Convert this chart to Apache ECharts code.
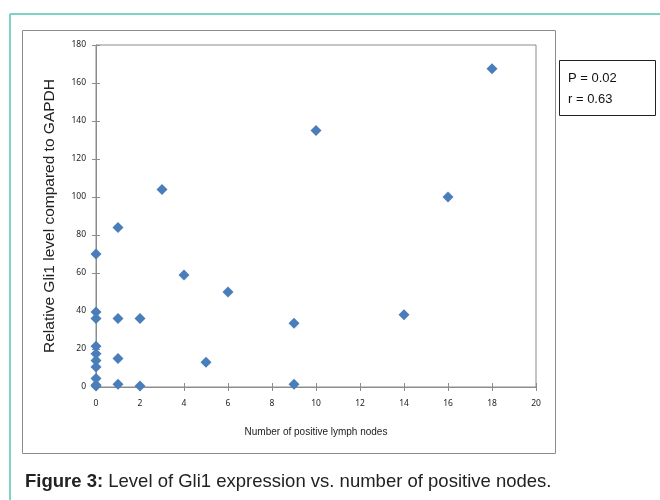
<!DOCTYPE html>
<html>
<head>
<meta charset="utf-8">
<script src="https://cdn.jsdelivr.net/npm/echarts@6/dist/echarts.min.js"></script>
<style>
  html, body { margin: 0; padding: 0; background: #fff; }
  #chart { width: 660px; height: 500px; }
</style>
</head>
<body>
<div id="chart"></div>
<script>
// positive lymph nodes vs relative Gli1 level
const nodes = [0, 0, 0, 0, 0, 0, 0, 0, 0, 0, 1, 1, 1, 1, 2, 2, 3, 4, 5, 6, 9, 9, 10, 14, 16, 18];
const gli1 = [70, 39.5, 36, 21.5, 17.5, 14, 10.5, 4.5, 1, 0.5, 84, 36, 15, 1.5, 36, 0.5, 104, 59, 13, 50, 33.5, 1.5, 135, 38, 100, 167.5];
const statLines = ['P = 0.02', 'r = 0.63'];
const caption = 'Level of Gli1 expression vs. number of positive nodes.';

const axisGray = '#8c8c8c';
const labelStyle = { fontFamily: 'Noto Sans', fontSize: 8.5, color: '#222' };

const chart = echarts.init(document.getElementById('chart'));

chart.setOption({
  animation: false,
  backgroundColor: '#fff',
  grid: {
    left: 96, top: 45, right: 124, bottom: 113,
    show: true, borderColor: axisGray, borderWidth: 1
  },
  xAxis: [
    {
      type: 'value', min: 0, max: 20, interval: 2,
      name: 'Number of positive lymph nodes',
      nameLocation: 'middle', nameGap: 40,
      nameTextStyle: { fontFamily: 'Liberation Sans', fontSize: 10, color: '#222' },
      axisLine: { lineStyle: { color: axisGray } },
      axisTick: { show: true, length: 4, lineStyle: { color: axisGray } },
      axisLabel: Object.assign({ margin: 12 }, labelStyle),
      splitLine: { show: false }
    },
    {
      // inner half of the crossing tick marks
      type: 'value', min: 0, max: 20, interval: 2, position: 'bottom',
      axisLine: { show: false },
      axisTick: { show: true, inside: true, length: 4, lineStyle: { color: axisGray } },
      axisLabel: { show: false },
      splitLine: { show: false }
    }
  ],
  yAxis: [
    {
      type: 'value', min: 0, max: 180, interval: 20,
      name: 'Relative Gli1 level compared to GAPDH',
      nameLocation: 'middle', nameGap: 38, nameRotate: 90,
      nameTextStyle: { fontFamily: 'Liberation Sans', fontSize: 15.5, color: '#222' },
      axisLine: { show: true, lineStyle: { color: axisGray } },
      axisTick: { show: true, length: 4, lineStyle: { color: axisGray } },
      axisLabel: Object.assign({ margin: 10 }, labelStyle),
      splitLine: { show: false }
    },
    {
      type: 'value', min: 0, max: 180, interval: 20, position: 'left',
      axisLine: { show: false },
      axisTick: { show: true, inside: true, length: 4, lineStyle: { color: axisGray } },
      axisLabel: { show: false },
      splitLine: { show: false }
    }
  ],
  series: [
    {
      type: 'scatter',
      data: nodes.map((n, i) => [n, gli1[i]]),
      symbol: 'diamond',
      symbolSize: 11,
      itemStyle: { color: '#4a7ebb', opacity: 1 },
      z: 5
    }
  ],
  graphic: [
    // teal page frame
    { type: 'line', shape: { x1: 10, y1: 14, x2: 660, y2: 14 }, style: { stroke: '#7fd3c6', lineWidth: 2 } },
    { type: 'line', shape: { x1: 10, y1: 14, x2: 10, y2: 500 }, style: { stroke: '#7fd3c6', lineWidth: 2 } },
    // chart area box
    { type: 'rect', shape: { x: 22.5, y: 30.5, width: 533, height: 423 }, style: { fill: 'none', stroke: '#8c8c8c', lineWidth: 1 }, z: -1 },
    // stats box
    { type: 'rect', shape: { x: 559.5, y: 60.5, width: 96, height: 55 }, style: { fill: '#fff', stroke: '#222', lineWidth: 1 } },
    {
      type: 'text', left: 568, top: 68,
      style: { text: statLines.join('\n'), fontFamily: 'Liberation Sans', fontSize: 13, lineHeight: 21, fill: '#111' }
    },
    {
      type: 'text', left: 25, top: 472,
      style: {
        text: '{b|Figure 3:} ' + caption,
        fontFamily: 'Liberation Sans', fontSize: 18.5, fill: '#222',
        rich: { b: { fontFamily: 'Liberation Sans', fontSize: 18.5, fontWeight: 'bold', fill: '#222' } }
      }
    }
  ]
});
</script>
</body>
</html>
